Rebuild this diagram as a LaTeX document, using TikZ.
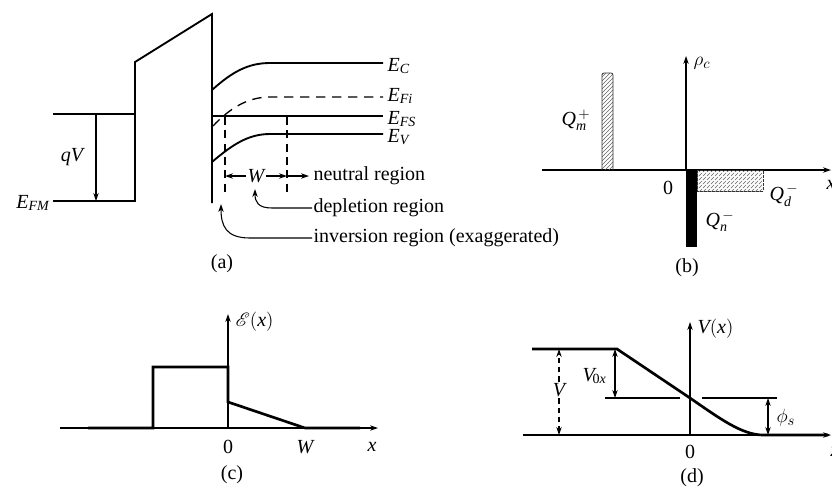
\documentclass[tikz,border=0pt]{standalone}
\usepackage{amsmath}
\usepackage{fontspec}
\setmainfont{Liberation Serif}
\usepackage{mathrsfs}
\usetikzlibrary{arrows.meta,patterns}
\begin{document}
\begin{tikzpicture}[x=0.75pt,y=-0.75pt,
  lbl/.style={font=\fontsize{15}{18}\selectfont, inner sep=1pt},
  band/.style={line width=1.4pt},
  thick3/.style={line width=2pt},
  thinl/.style={line width=0.8pt},
  tip/.style={-{Stealth[length=6pt,width=4pt]}},
  tips/.style={{Stealth[length=6pt,width=4pt]}-{Stealth[length=6pt,width=4pt]}},
  hatch/.style={pattern=north east lines, pattern color=black!60, draw=black!80, line width=0.6pt}
]
\useasboundingbox (0,0) rectangle (832,487);

% ---------------- (a) band diagram ----------------
\coordinate (fmL) at (53,201);
\coordinate (ox1) at (135,201);
\coordinate (ox2) at (135,62);
\coordinate (ox3) at (212,14);
\coordinate (ox4) at (212,203);
\draw[band] (fmL) -- (ox1) -- (ox2) -- (ox3) -- (ox4);
\coordinate (mtop) at (53,114);
\coordinate (mtopR) at (135,114);
\draw[thinl] (mtop) -- (mtopR);
\coordinate (qvA) at (96,114);
\coordinate (qvB) at (96,201);
\draw[thinl,tip] (qvA) -- (qvB);
\node[lbl] (qV) at (72,157) {$\textit{qV}$};
\node[lbl,anchor=east] (EFM) at (51,203) {$\textit{E}_{\textit{FM}}$};

\draw[band] (212,90) .. controls (232,72) and (248,63) .. (270,63) -- (383,63);
\draw[band,dash pattern=on 7pt off 5pt,line width=1pt] (213,126) .. controls (230,108) and (248,97) .. (270,97) -- (383,97);
\draw[band] (212,116) -- (383,116);
\draw[band] (212,162) .. controls (232,145) and (248,134) .. (270,134) -- (383,134);
\node[lbl,anchor=west] (EC) at (386,66) {$\textit{E}_{\textit{C}}$};
\node[lbl,anchor=west] (EFi) at (386,96) {$\textit{E}_{\textit{Fi}}$};
\node[lbl,anchor=west] (EFS) at (386,119) {$\textit{E}_{\textit{FS}}$};
\node[lbl,anchor=west] (EV) at (386,137) {$\textit{E}_{\textit{V}}$};

\draw[thinl,dash pattern=on 6pt off 4pt] (225,117) -- (225,195);
\draw[thinl,dash pattern=on 6pt off 4pt] (287,117) -- (287,195);
\node[lbl] (W) at (256,176) {$\textit{W}$};
\coordinate (wl) at (225,176);
\coordinate (wr) at (287,176);
\coordinate (nr) at (309,176);
\draw[thinl,tip] (W) -- (wl);
\draw[thinl,tip] (W) -- (wr);
\draw[thinl,tip] (wr) -- (nr);
\node[lbl,anchor=west] (neutral) at (312,176) {neutral region};
\node[lbl,anchor=west] (depl) at (312,208) {depletion region};
\node[lbl,anchor=west] (inv) at (312,238) {inversion region (exaggerated)};
\draw[thinl,tip] (depl.west) -- (272,208) .. controls (258,208) and (255,202) .. (255,189);
\draw[thinl,tip] (inv.west) -- (250,238) .. controls (226,238) and (221,226) .. (221,204);
\node[lbl] (cap-a) at (222,264) {(a)};

% ---------------- (b) charge density ----------------
\coordinate (bx0) at (542,170);
\coordinate (bx1) at (831,170);
\draw[line width=1pt,tip] (bx0) -- (bx1);
\coordinate (by0) at (686,170);
\coordinate (by1) at (686,56);
\draw[thinl,tip] (by0) -- (by1);
\node[lbl,anchor=west] (rho) at (692,63) {$\rho_c$};
\node[lbl] (bxl) at (831,185) {$\textit{x}$};
\draw[hatch] (602,170) -- (602,74) [rounded corners=1.5pt] -- (602,73) -- (613,73) [sharp corners] -- (613,170);
\draw[hatch,dash pattern=on 2pt off 1pt] (697,170) rectangle (763,191);
\fill[black] (686,170) rectangle (697,247);
\node[lbl] (Qm) at (576,120) {$\textit{Q}_{\textit{m}}^{\,+}$};
\node[lbl] (b0) at (668,188) {0};
\node[lbl] (Qd) at (784,195) {$\textit{Q}_{\textit{d}}^{\,-}$};
\node[lbl] (Qn) at (720,221) {$\textit{Q}_{\textit{n}}^{\,-}$};
\node[lbl] (cap-b) at (687,268) {(b)};

% ---------------- (c) electric field ----------------
\coordinate (cx0) at (60,428);
\coordinate (cx1) at (378,428);
\draw[thinl,tip] (cx0) -- (cx1);
\coordinate (cy0) at (228,428);
\coordinate (cy1) at (228,314);
\draw[thinl,tip] (cy0) -- (cy1);
\draw[thick3] (88,428) -- (153,428) -- (153,367) -- (228,367) -- (228,402) -- (305,428) -- (360,428);
\node[lbl,anchor=west] (Ex) at (234,322) {$\mathscr{E}(\textit{x})$};
\node[lbl] (c0) at (228,447) {0};
\node[lbl] (cW) at (305,447) {$\textit{W}$};
\node[lbl] (cxl) at (372,447) {$\textit{x}$};
\node[lbl] (cap-c) at (232,475) {(c)};

% ---------------- (d) potential ----------------
\coordinate (dx0) at (523,435);
\coordinate (dx1) at (831,435);
\draw[thinl,tip] (dx0) -- (dx1);
\coordinate (dy0) at (690,435);
\coordinate (dy1) at (690,322);
\draw[thinl,tip] (dy0) -- (dy1);
\node[lbl,anchor=west] (Vx) at (696,329) {$\textit{V}(\textit{x})$};
\draw[thick3] (532,349) -- (617,349) -- (690,398) .. controls (719,418) and (742,435) .. (763,435) -- (828,435);
\draw[thinl] (605,398) -- (680,398);
\draw[thinl] (702,398) -- (777,398);
\node[lbl] (Vl) at (559,390) {$\textit{V}$};
\coordinate (vt) at (559,349);
\coordinate (vb) at (559,435);
\draw[thinl,tip,dash pattern=on 4pt off 3pt] (Vl) -- (vt);
\draw[thinl,tip,dash pattern=on 4pt off 3pt] (Vl) -- (vb);
\coordinate (v0t) at (615,349);
\coordinate (v0b) at (615,398);
\draw[thinl,tips] (v0t) -- (v0b);
\node[lbl,anchor=east] (V0x) at (608,376) {$\textit{V}_{\!\textrm{0\textit{x}}}$};
\coordinate (pst) at (768,398);
\coordinate (psb) at (768,435);
\draw[thinl,tips] (pst) -- (psb);
\node[lbl,anchor=west] (phis) at (775,418) {$\phi_s$};
\node[lbl] (d0) at (690,452) {0};
\node[lbl] (dxl) at (835,452) {$\textit{x}$};
\node[lbl] (cap-d) at (692,478) {(d)};
\end{tikzpicture}
\end{document}
